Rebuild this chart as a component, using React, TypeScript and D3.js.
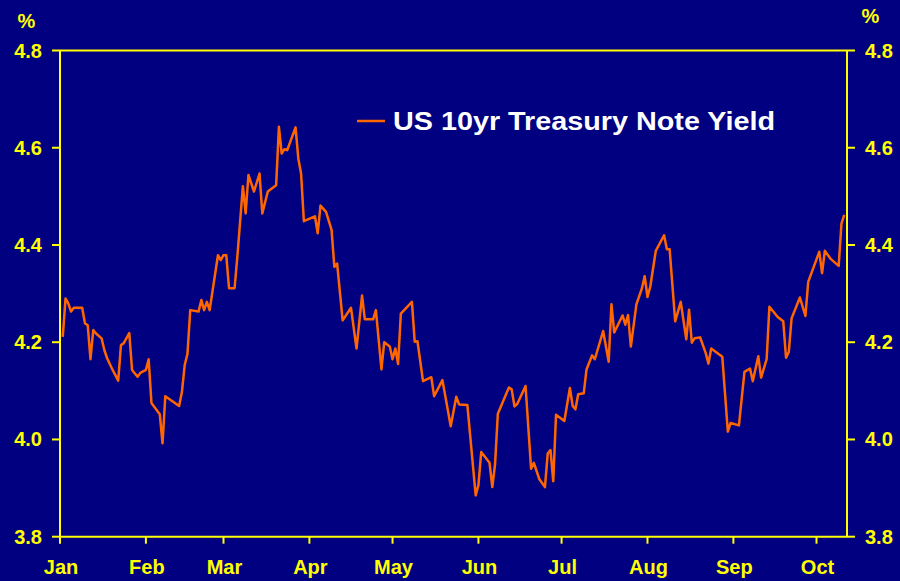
import React from "react";
import * as d3 from "d3";

// Days since 1 Jan 2005 (trading-day vertices) and 10yr yield (%)
const days: number[] = [
  1, 2, 3, 4, 5, 8, 9, 10, 11, 12, 13, 15, 16, 17, 19, 21, 22, 23, 25, 26,
  28, 29, 31, 32, 33, 36, 37, 38, 43, 44, 45, 46, 47, 50, 51, 52, 53, 54, 57, 58,
  59, 60, 61, 63, 64, 66, 67, 68, 70, 72, 73, 75, 78, 79, 80, 81, 82, 85, 86, 87,
  88, 92, 93, 94, 96, 98, 99, 100, 102, 105, 107, 109, 110, 113, 114, 116, 117, 119, 120, 121,
  122, 123, 127, 128, 129, 131, 134, 135, 138, 141, 143, 144, 147, 150, 151, 152, 155, 156, 157, 158,
  162, 163, 164, 165, 168, 170, 171, 173, 175, 176, 177, 178, 179, 182, 184, 185, 186, 187, 189, 190,
  192, 193, 196, 198, 199, 200, 203, 204, 205, 206, 208, 210, 211, 212, 213, 215, 218, 219, 220, 222,
  224, 226, 227, 228, 229, 231, 233, 234, 235, 239, 241, 242, 245, 247, 249, 250, 252, 253, 255, 256,
  259, 261, 262, 263, 264, 267, 269, 270, 274, 275, 276, 278, 281, 282, 283,
];
const yields: number[] = [
  4.211, 4.29, 4.28, 4.263, 4.271, 4.271, 4.239, 4.235, 4.165, 4.225, 4.218, 4.208, 4.184, 4.167, 4.143, 4.121, 4.194, 4.198, 4.219, 4.143,
  4.129, 4.137, 4.143, 4.165, 4.075, 4.052, 3.992, 4.089, 4.069, 4.098, 4.153, 4.176, 4.266, 4.263, 4.287, 4.266, 4.283, 4.266, 4.379, 4.369,
  4.379, 4.379, 4.311, 4.311, 4.376, 4.521, 4.465, 4.544, 4.51, 4.547, 4.465, 4.51, 4.523, 4.643, 4.588, 4.597, 4.595, 4.642, 4.578, 4.547,
  4.449, 4.459, 4.424, 4.481, 4.468, 4.431, 4.355, 4.362, 4.245, 4.271, 4.187, 4.296, 4.247, 4.247, 4.266, 4.144, 4.2, 4.191, 4.165, 4.187,
  4.155, 4.259, 4.283, 4.201, 4.202, 4.12, 4.128, 4.089, 4.122, 4.027, 4.088, 4.072, 4.071, 3.885, 3.906, 3.974, 3.952, 3.902, 3.949, 4.053,
  4.107, 4.103, 4.068, 4.073, 4.11, 3.94, 3.952, 3.918, 3.902, 3.971, 3.978, 3.914, 4.051, 4.038, 4.106, 4.069, 4.062, 4.093, 4.095, 4.144,
  4.173, 4.165, 4.223, 4.16, 4.278, 4.22, 4.255, 4.236, 4.256, 4.191, 4.278, 4.311, 4.336, 4.293, 4.314, 4.388, 4.42, 4.391, 4.391, 4.243,
  4.283, 4.206, 4.267, 4.199, 4.208, 4.21, 4.178, 4.156, 4.187, 4.17, 4.016, 4.034, 4.029, 4.139, 4.146, 4.12, 4.171, 4.127, 4.165, 4.273,
  4.252, 4.243, 4.168, 4.18, 4.249, 4.292, 4.254, 4.324, 4.386, 4.342, 4.388, 4.372, 4.357, 4.444, 4.462,
];
const monthLabels: string[] = ["Jan", "Feb", "Mar", "Apr", "May", "Jun", "Jul", "Aug", "Sep", "Oct"];
const yTicks: number[] = [3.8, 4.0, 4.2, 4.4, 4.6, 4.8];
const seriesName = "US 10yr Treasury Note Yield";
const unitLabel = "%";

const W = 900;
const H = 581;
const L = 60;
const R = 847;
const T = 50.5;
const B = 536.7;
const YELLOW = "#FFFF00";
const ORANGE = "#FF6600";
const BG = "#000080";
const FONT = "'Liberation Sans', Arial, sans-serif";

export default function App() {
  const start = new Date(2005, 0, 1);
  const end = d3.timeDay.offset(start, 284);
  const x = d3.scaleTime().domain([start, end]).range([L, R]);
  const y = d3.scaleLinear().domain([3.8, 4.8]).range([B, T]);
  const data = days.map((d, i) => ({ date: d3.timeDay.offset(start, d), v: yields[i] }));
  const line = d3
    .line<{ date: Date; v: number }>()
    .x((d) => x(d.date))
    .y((d) => y(d.v));
  const months = d3.timeMonth.range(start, end);

  return (
    <svg width={W} height={H} style={{ position: "absolute", left: 0, top: 0, display: "block" }}>
      <rect x={0} y={0} width={W} height={H} fill={BG} />
      {/* frame */}
      <line x1={L} x2={L} y1={T} y2={B} stroke={YELLOW} strokeWidth={2} />
      <line x1={R} x2={R} y1={T} y2={B} stroke={YELLOW} strokeWidth={2} />
      <line x1={L} x2={R} y1={T} y2={T} stroke={YELLOW} strokeWidth={2} />
      <line x1={L} x2={R} y1={B} y2={B} stroke={YELLOW} strokeWidth={2} />
      {/* y ticks */}
      {yTicks.map((t) => (
        <g key={t}>
          <line x1={L - 8} x2={L} y1={y(t)} y2={y(t)} stroke={YELLOW} strokeWidth={2} />
          <line x1={R} x2={R + 8} y1={y(t)} y2={y(t)} stroke={YELLOW} strokeWidth={2} />
          <text x={42} y={y(t) + 7} textAnchor="end" fill={YELLOW} fontFamily={FONT} fontWeight="bold" fontSize={20}>
            {t.toFixed(1)}
          </text>
          <text x={865} y={y(t) + 7} textAnchor="start" fill={YELLOW} fontFamily={FONT} fontWeight="bold" fontSize={20}>
            {t.toFixed(1)}
          </text>
        </g>
      ))}
      {/* x ticks */}
      {months.map((m, i) => (
        <g key={i}>
          <line x1={x(m)} x2={x(m)} y1={B} y2={B + 7} stroke={YELLOW} strokeWidth={2} />
          <text x={x(m) + 1} y={574} textAnchor="middle" fill={YELLOW} fontFamily={FONT} fontWeight="bold" fontSize={20}>
            {monthLabels[i]}
          </text>
        </g>
      ))}
      <text x={26.5} y={28} textAnchor="middle" fill={YELLOW} fontFamily={FONT} fontWeight="bold" fontSize={20}>
        {unitLabel}
      </text>
      <text x={870.5} y={22.5} textAnchor="middle" fill={YELLOW} fontFamily={FONT} fontWeight="bold" fontSize={20}>
        {unitLabel}
      </text>
      {/* series */}
      <path d={line(data) || ""} fill="none" stroke={ORANGE} strokeWidth={2.5} strokeLinejoin="round" />
      {/* legend */}
      <line x1={357} x2={385} y1={121} y2={121} stroke={ORANGE} strokeWidth={2.5} />
      <text
        x={393}
        y={130}
        fill="#FFFFFF"
        fontFamily={FONT}
        fontWeight="bold"
        fontSize={25}
        textLength={382}
        lengthAdjust="spacingAndGlyphs"
      >
        {seriesName}
      </text>
    </svg>
  );
}
